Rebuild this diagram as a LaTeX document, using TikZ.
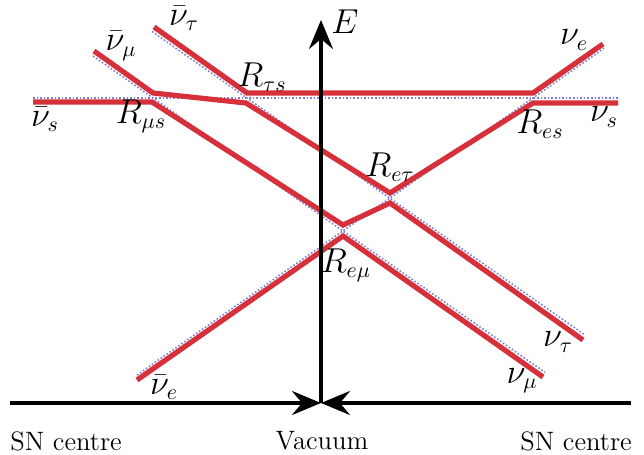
\documentclass[tikz,border=0pt]{standalone}
\usetikzlibrary{arrows.meta}
\definecolor{redline}{RGB}{214,48,58}
\definecolor{blueline}{RGB}{125,125,215}
\begin{document}
\begin{tikzpicture}[x=0.5pt,y=-0.5pt,
  bare/.style={blueline,line width=0.8pt,densely dotted},
  path/.style={redline,line width=2.6pt,line join=miter},
  axis/.style={black,line width=1.6pt,-{Stealth[length=14.5pt,width=12pt,inset=5pt]}},
  mlab/.style={inner sep=0pt,font=\fontsize{16}{18}\selectfont},
  tlab/.style={inner sep=0pt,font=\fontsize{13.3}{15}\selectfont}]
\useasboundingbox (0,0) rectangle (644,455);
% blue (unmixed) lines
\coordinate (sL) at (33,98);   \coordinate (sR) at (618,98);
\coordinate (eB) at (137,375); \coordinate (eT) at (604,48.3);
\coordinate (muT) at (93,56);  \coordinate (muB) at (545,372.4);
\coordinate (tauT) at (152,31.5); \coordinate (tauB) at (585,335);
\draw[bare] (sL) -- (sR);
\draw[bare] (eB) -- (eT);
\draw[bare] (muT) -- (muB);
\draw[bare] (tauT) -- (tauB);
% red (adiabatic) paths
\coordinate (a0) at (33,102);  \coordinate (a1) at (152,102);
\coordinate (a2) at (343,225); \coordinate (a3) at (390,203);
\coordinate (a4) at (583,340);
\draw[path] (a0) -- (a1) -- (a2) -- (a3) -- (a4);
\coordinate (b0) at (137,380); \coordinate (b1) at (343,236);
\coordinate (b2) at (543,377);
\draw[path] (b0) -- (b1) -- (b2);
\coordinate (c0) at (94,51);   \coordinate (c1) at (153,93);
\coordinate (c2) at (246,103); \coordinate (c3) at (390,193);
\coordinate (c4) at (533,103); \coordinate (c5) at (618,103);
\draw[path] (c0) -- (c1) -- (c2) -- (c3) -- (c4) -- (c5);
\coordinate (d0) at (154,27);  \coordinate (d1) at (247,93);
\coordinate (d2) at (533,93);  \coordinate (d3) at (603,44);
\draw[path] (d0) -- (d1) -- (d2) -- (d3);
% axes
\coordinate (O) at (321,403);
\coordinate (Etop) at (321,20);
\coordinate (xl) at (10,403);
\coordinate (xr) at (631,403);
\draw[axis] (O) -- (Etop);
\draw[axis] (xl) -- (O);
\draw[axis] (xr) -- (O);
% labels
\node[mlab] (lE) at (345,22) {$E$};
\node[mlab] (lnte) at (184,18) {$\bar\nu_\tau$};
\node[mlab] (lntm) at (121,46) {$\bar\nu_\mu$};
\node[mlab] (lnbs) at (45,119) {$\bar\nu_s$};
\node[mlab] (lRms) at (141,116) {$R_{\mu s}$};
\node[mlab] (lRts) at (262,77) {$R_{\tau s}$};
\node[mlab] (lne) at (574,40) {$\nu_e$};
\node[mlab] (lns) at (604,117) {$\nu_s$};
\node[mlab] (lRes) at (540,124) {$R_{es}$};
\node[mlab] (lRet) at (390,167) {$R_{e\tau}$};
\node[mlab] (lRem) at (346,265) {$R_{e\mu}$};
\node[mlab] (lnt) at (558,342) {$\nu_\tau$};
\node[mlab] (lnm) at (522,381) {$\nu_\mu$};
\node[mlab] (lnbe) at (164,387) {$\bar\nu_e$};
\node[tlab] (lSNl) at (66,441) {SN centre};
\node[tlab] (lVac) at (322,441) {Vacuum};
\node[tlab] (lSNr) at (576,441) {SN centre};
\end{tikzpicture}
\end{document}
